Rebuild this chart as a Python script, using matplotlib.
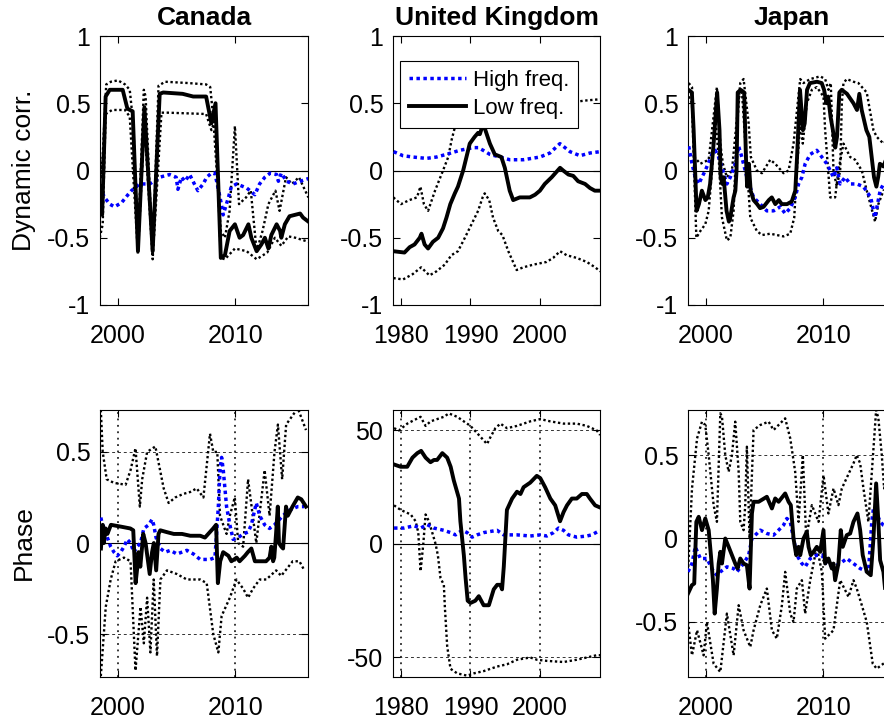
import matplotlib
matplotlib.use("Agg")
import matplotlib.pyplot as plt
from matplotlib.lines import Line2D

plt.rcParams['font.family'] = ['Liberation Sans', 'DejaVu Sans']
plt.rcParams['axes.unicode_minus'] = False

# ---------------- Canada: dynamic correlation ----------------
ca_c_lf_t = [1998.45, 1998.65, 1998.95, 1999.3, 2000.4, 2000.8, 2001.25, 2001.7, 2002.25, 2002.95, 2003.55, 2003.85, 2005.5, 2006.4, 2007.5, 2007.95, 2008.3, 2008.75, 2009.1, 2009.5, 2009.95, 2010.35, 2010.65, 2011.1, 2011.35, 2011.8, 2012.2, 2012.5, 2012.8, 2013.05, 2013.5, 2013.8, 2013.9, 2014.2, 2014.6, 2015.05, 2015.5, 2015.75, 2016.2]
ca_c_lf_v = [-0.12, -0.33, 0.55, 0.6, 0.6, 0.46, 0.44, -0.6, 0.47, -0.6, 0.57, 0.58, 0.57, 0.55, 0.55, 0.35, 0.5, -0.65, -0.63, -0.45, -0.4, -0.5, -0.48, -0.4, -0.5, -0.6, -0.55, -0.5, -0.58, -0.48, -0.4, -0.45, -0.5, -0.4, -0.34, -0.33, -0.32, -0.35, -0.38]
ca_c_up_t = [1998.45, 1998.6, 1998.75, 1999.0, 1999.4, 2000.0, 2000.6, 2001.0, 2001.3, 2001.7, 2002.2, 2002.35, 2002.95, 2003.45, 2004.0, 2006.0, 2007.5, 2007.85, 2008.1, 2008.4, 2008.75, 2009.1, 2009.5, 2009.95, 2010.3, 2010.9, 2011.3, 2011.8, 2012.3, 2012.8, 2013.4, 2013.75, 2014.3, 2014.8, 2015.4, 2016.2]
ca_c_up_v = [0.15, -0.05, 0.2, 0.64, 0.66, 0.67, 0.64, 0.6, 0.35, -0.55, 0.6, 0.55, -0.62, 0.63, 0.66, 0.65, 0.64, 0.62, 0.4, 0.0, -0.45, -0.5, -0.3, 0.33, -0.25, -0.2, -0.15, -0.6, -0.45, -0.25, -0.15, -0.3, -0.05, -0.1, -0.05, -0.2]
ca_c_lo_t = [1998.45, 1998.7, 1998.95, 1999.5, 2000.6, 2001.0, 2001.7, 2002.25, 2002.95, 2003.7, 2004.2, 2007.5, 2007.95, 2008.3, 2008.75, 2009.1, 2009.95, 2010.95, 2011.8, 2012.7, 2013.35, 2013.9, 2014.5, 2015.1, 2016.2]
ca_c_lo_v = [-0.5, -0.4, 0.42, 0.45, 0.45, 0.4, -0.62, 0.35, -0.66, 0.43, 0.43, 0.42, 0.3, 0.38, -0.65, -0.66, -0.58, -0.6, -0.66, -0.61, -0.5, -0.56, -0.49, -0.5, -0.53]
ca_c_hf_t = [1998.45, 1998.85, 1999.3, 1999.7, 2000.3, 2000.85, 2001.15, 2001.85, 2002.7, 2003.55, 2004.4, 2004.95, 2005.1, 2005.4, 2005.7, 2006.1, 2006.5, 2006.8, 2007.25, 2007.55, 2007.95, 2008.25, 2008.8, 2008.95, 2009.4, 2009.65, 2010.1, 2010.95, 2011.65, 2011.8, 2012.05, 2012.5, 2012.95, 2013.5, 2013.65, 2013.9, 2014.35, 2014.9, 2015.5, 2016.2]
ca_c_hf_v = [-0.12, -0.2, -0.25, -0.27, -0.24, -0.18, -0.15, -0.1, -0.1, -0.05, -0.03, -0.05, -0.14, -0.05, -0.08, -0.03, -0.1, -0.15, -0.1, -0.05, -0.02, -0.02, -0.25, -0.33, -0.2, -0.12, -0.1, -0.13, -0.18, -0.15, -0.1, -0.05, -0.02, -0.03, -0.08, -0.02, -0.08, -0.1, -0.08, -0.06]

# ---------------- United Kingdom: dynamic correlation ----------------
uk_c_lf_t = [1978.9, 1980.5, 1981.25, 1981.95, 1982.7, 1982.95, 1983.4, 1983.9, 1984.6, 1985.35, 1986.05, 1986.55, 1987.1, 1987.75, 1988.2, 1988.95, 1989.9, 1990.6, 1991.1, 1991.35, 1991.85, 1992.15, 1992.8, 1993.5, 1994.45, 1994.95, 1995.65, 1996.15, 1997.1, 1998.55, 1999.3, 2000.0, 2000.7, 2001.7, 2002.9, 2003.35, 2004.1, 2004.8, 2005.5, 2006.5, 2007.2, 2007.9, 2008.7]
uk_c_lf_v = [-0.6, -0.61, -0.57, -0.55, -0.5, -0.47, -0.55, -0.58, -0.53, -0.5, -0.43, -0.35, -0.25, -0.17, -0.12, 0.0, 0.2, 0.25, 0.28, 0.27, 0.35, 0.3, 0.2, 0.12, 0.1, 0.02, -0.15, -0.22, -0.2, -0.2, -0.18, -0.15, -0.1, -0.05, 0.02, 0.0, -0.03, -0.04, -0.08, -0.1, -0.13, -0.15, -0.15]
uk_c_up_t = [1978.9, 1980.0, 1981.2, 1982.3, 1982.8, 1983.3, 1983.9, 1984.9, 1986.05, 1986.8, 1987.3, 1987.75, 1988.5, 1990.0, 1992.0, 1994.0, 1996.0, 1998.0, 2000.0, 2002.0, 2003.7, 2005.0, 2006.5, 2008.7]
uk_c_up_v = [-0.2, -0.25, -0.22, -0.2, -0.12, -0.25, -0.3, -0.15, 0.0, 0.1, 0.23, 0.32, 0.55, 0.65, 0.75, 0.68, 0.58, 0.52, 0.5, 0.5, 0.52, 0.51, 0.52, 0.53]
uk_c_lo_t = [1978.9, 1980.3, 1981.7, 1982.9, 1984.1, 1985.1, 1986.3, 1987.25, 1988.2, 1989.2, 1990.15, 1991.1, 1991.75, 1992.05, 1992.7, 1993.25, 1994.0, 1994.6, 1995.45, 1996.65, 1997.6, 1999.05, 2000.95, 2001.9, 2002.9, 2003.85, 2005.3, 2006.75, 2007.95, 2008.7]
uk_c_lo_v = [-0.8, -0.81, -0.77, -0.72, -0.78, -0.75, -0.7, -0.63, -0.6, -0.5, -0.4, -0.3, -0.2, -0.17, -0.22, -0.35, -0.45, -0.48, -0.6, -0.74, -0.72, -0.7, -0.68, -0.65, -0.6, -0.63, -0.65, -0.68, -0.72, -0.75]
uk_c_hf_t = [1978.94, 1980.29, 1981.73, 1983.65, 1985.1, 1986.54, 1988.46, 1990.38, 1991.11, 1991.83, 1992.79, 1994.23, 1995.67, 1997.6, 2000.0, 2001.44, 2002.88, 2003.37, 2004.33, 2005.77, 2007.21, 2008.65]
uk_c_hf_v = [0.14, 0.11, 0.1, 0.09, 0.1, 0.12, 0.15, 0.17, 0.17, 0.15, 0.12, 0.1, 0.08, 0.08, 0.1, 0.13, 0.2, 0.18, 0.14, 0.11, 0.13, 0.14]

# ---------------- Japan: dynamic correlation ----------------
jp_c_lf_t = [1998.5, 1998.8, 1998.95, 1999.2, 1999.4, 1999.65, 1999.95, 2000.15, 2000.35, 2000.65, 2000.95, 2001.15, 2001.25, 2001.4, 2001.5, 2001.75, 2001.95, 2002.05, 2002.35, 2002.5, 2002.6, 2002.7, 2002.95, 2003.25, 2003.4, 2003.5, 2003.65, 2003.8, 2004.05, 2004.35, 2004.6, 2004.9, 2005.35, 2005.6, 2005.9, 2006.2, 2006.45, 2006.9, 2007.3, 2007.6, 2007.75, 2008.0, 2008.25, 2008.4, 2008.6, 2008.85, 2009.45, 2009.85, 2010.05, 2010.25, 2010.4, 2010.6, 2010.8, 2011.0, 2011.15, 2011.35, 2011.55, 2012.0, 2012.55, 2012.85, 2013.05, 2013.25, 2013.65, 2013.9, 2014.1, 2014.3, 2014.5, 2014.65, 2014.8, 2015.1, 2015.4, 2016.2]
jp_c_lf_v = [0.6, 0.58, 0.3, -0.3, -0.25, -0.15, -0.22, -0.2, -0.1, 0.2, 0.58, 0.3, -0.05, -0.1, -0.05, -0.3, -0.38, -0.36, -0.2, -0.15, 0.0, 0.58, 0.6, 0.58, 0.1, -0.12, 0.05, -0.15, -0.22, -0.25, -0.28, -0.27, -0.22, -0.2, -0.25, -0.22, -0.25, -0.25, -0.23, -0.15, 0.1, 0.6, 0.3, 0.35, 0.6, 0.65, 0.66, 0.65, 0.6, 0.5, 0.55, 0.4, 0.3, 0.17, 0.25, 0.58, 0.6, 0.57, 0.5, 0.45, 0.57, 0.45, 0.3, 0.25, 0.1, -0.05, -0.12, -0.05, 0.05, 0.03, 0.1, 0.1]
jp_c_up_t = [1998.53, 1998.81, 1999.01, 1999.52, 2000.23, 2000.93, 2001.22, 2001.44, 2001.78, 2002.21, 2002.92, 2003.2, 2003.63, 2003.82, 2004.33, 2004.76, 2005.47, 2005.89, 2006.6, 2007.03, 2007.45, 2008.02, 2008.3, 2008.87, 2009.72, 2010.14, 2010.42, 2010.62, 2010.85, 2011.13, 2011.42, 2011.56, 2011.7, 2011.98, 2012.55, 2012.97, 2013.68, 2014.25, 2014.53, 2015.1, 2016.2]
jp_c_up_v = [0.65, 0.62, 0.1, 0.05, 0.08, 0.62, 0.2, 0.05, -0.05, 0.0, 0.65, 0.68, 0.35, 0.1, 0.0, -0.02, 0.08, 0.05, -0.02, 0.0, 0.2, 0.68, 0.65, 0.68, 0.7, 0.68, 0.6, 0.65, 0.0, -0.12, 0.0, 0.5, 0.65, 0.68, 0.66, 0.65, 0.58, 0.3, 0.25, 0.2, 0.3]
jp_c_lo_t = [1998.53, 1998.81, 1999.18, 1999.52, 1999.94, 2000.23, 2000.51, 2000.79, 2001.08, 2001.36, 2001.78, 2002.07, 2002.35, 2002.63, 2002.83, 2003.05, 2003.43, 2003.77, 2004.33, 2004.76, 2005.47, 2006.03, 2006.6, 2007.17, 2007.51, 2007.73, 2008.02, 2008.24, 2008.58, 2009.01, 2009.43, 2010.0, 2010.14, 2010.57, 2010.99, 2011.27, 2011.7, 2012.27, 2012.69, 2013.26, 2013.68, 2014.39, 2014.67, 2015.1, 2016.2]
jp_c_lo_v = [0.55, 0.5, -0.5, -0.45, -0.4, -0.3, 0.0, 0.4, 0.1, -0.35, -0.52, -0.5, -0.3, 0.3, 0.55, 0.6, 0.1, -0.35, -0.45, -0.48, -0.47, -0.48, -0.49, -0.47, -0.35, 0.0, 0.35, 0.2, 0.5, 0.6, 0.62, 0.55, 0.3, -0.2, -0.2, 0.0, 0.2, 0.1, 0.08, 0.0, -0.15, -0.38, -0.25, -0.15, -0.1]
jp_c_hf_t = [1998.53, 1998.81, 1999.09, 1999.38, 1999.66, 1999.94, 2000.51, 2000.79, 2001.08, 2001.5, 2001.78, 2002.07, 2002.49, 2002.78, 2003.05, 2003.48, 2004.05, 2004.62, 2005.18, 2005.75, 2006.32, 2006.74, 2007.17, 2007.59, 2007.88, 2008.16, 2008.44, 2008.87, 2009.43, 2009.86, 2010.28, 2010.57, 2010.85, 2011.13, 2011.42, 2011.84, 2012.27, 2012.83, 2013.4, 2014.02, 2014.25, 2014.39, 2014.53, 2014.82, 2015.1, 2016.2]
jp_c_hf_v = [0.18, 0.05, -0.05, -0.1, -0.05, 0.0, 0.12, 0.15, 0.1, -0.02, -0.1, -0.05, 0.05, 0.18, 0.1, -0.05, -0.2, -0.25, -0.3, -0.3, -0.27, -0.32, -0.28, -0.2, -0.1, -0.05, 0.05, 0.12, 0.15, 0.1, 0.05, 0.0, -0.05, 0.02, -0.1, -0.05, -0.1, -0.1, -0.12, -0.2, -0.3, -0.35, -0.28, -0.15, -0.1, -0.05]

# ---------------- Canada: phase ----------------
ca_p_lf_t = [1998.55, 1998.7, 1998.8, 1998.95, 1999.1, 1999.4, 2000.25, 2001.05, 2001.3, 2001.5, 2001.7, 2001.75, 2001.9, 2002.15, 2002.35, 2002.7, 2002.9, 2003.05, 2003.25, 2003.45, 2003.6, 2004.15, 2004.75, 2005.45, 2006.15, 2007.0, 2007.4, 2008.1, 2008.35, 2008.5, 2008.7, 2008.95, 2009.4, 2009.65, 2010.1, 2010.35, 2010.8, 2011.05, 2011.35, 2011.65, 2012.2, 2012.6, 2012.9, 2013.05, 2013.2, 2013.3, 2013.45, 2013.6, 2013.7, 2013.9, 2014.05, 2014.3, 2014.45, 2014.85, 2015.3, 2015.6, 2016.0]
ca_p_lf_v = [-0.03, 0.1, 0.0, 0.08, 0.05, 0.1, 0.09, 0.08, 0.07, -0.22, -0.1, -0.05, -0.13, 0.05, 0.0, -0.17, -0.05, 0.0, -0.15, 0.05, 0.07, 0.06, 0.05, 0.05, 0.04, 0.04, 0.03, 0.08, 0.1, -0.22, -0.1, -0.05, -0.07, -0.1, -0.08, -0.1, -0.07, -0.05, -0.03, -0.1, -0.1, -0.1, -0.08, -0.02, -0.1, -0.08, 0.05, 0.2, 0.0, -0.02, -0.03, 0.2, 0.15, 0.2, 0.25, 0.24, 0.2]
ca_p_hf_t = [1998.54, 1998.68, 1998.87, 1999.1, 1999.38, 1999.66, 1999.94, 2000.23, 2000.51, 2000.79, 2001.07, 2001.35, 2001.63, 2001.92, 2002.2, 2002.62, 2002.9, 2003.04, 2003.24, 2003.61, 2004.03, 2004.45, 2005.01, 2005.44, 2005.86, 2006.42, 2006.99, 2007.83, 2008.25, 2008.39, 2008.54, 2008.68, 2008.82, 2008.96, 2009.1, 2009.24, 2009.52, 2009.8, 2010.23, 2010.65, 2011.07, 2011.35, 2011.63, 2011.77, 2012.06, 2012.48, 2012.9, 2013.32, 2014.03, 2014.59, 2015.3, 2015.86]
ca_p_hf_v = [0.14, 0.1, 0.08, 0.03, -0.02, -0.05, -0.07, -0.05, -0.02, 0.02, 0.0, -0.05, -0.02, 0.0, 0.08, 0.1, 0.13, 0.1, 0.03, -0.03, -0.05, -0.04, -0.06, -0.05, -0.04, -0.06, -0.09, -0.09, -0.08, 0.05, 0.2, 0.4, 0.47, 0.4, 0.3, 0.2, 0.1, 0.02, 0.03, 0.05, 0.06, 0.1, 0.18, 0.22, 0.15, 0.1, 0.08, 0.1, 0.15, 0.18, 0.2, 0.2]
ca_p_up_t = [1998.54, 1998.7, 1999.04, 1999.66, 2000.65, 2001.07, 2001.49, 2001.86, 2002.06, 2002.48, 2003.18, 2003.89, 2004.31, 2004.87, 2005.58, 2006.14, 2006.7, 2007.27, 2007.83, 2008.11, 2008.45, 2008.68, 2009.24, 2009.52, 2009.94, 2010.23, 2010.65, 2011.07, 2011.77, 2012.48, 2012.9, 2013.32, 2013.61, 2013.97, 2014.31, 2015.3, 2016.0]
ca_p_up_v = [0.73, 0.5, 0.35, 0.33, 0.32, 0.4, 0.52, 0.2, 0.35, 0.5, 0.53, 0.3, 0.22, 0.25, 0.27, 0.28, 0.3, 0.25, 0.6, 0.5, 0.5, 0.15, 0.05, 0.15, 0.25, 0.0, -0.02, 0.35, 0.0, 0.4, 0.15, 0.5, 0.65, 0.35, 0.65, 0.74, 0.62]
ca_p_lo_t = [1998.54, 1998.96, 1999.38, 1999.8, 2000.51, 2001.07, 2001.49, 2001.92, 2002.2, 2002.48, 2002.76, 2003.04, 2003.32, 2003.61, 2004.17, 2005.01, 2005.86, 2006.99, 2007.55, 2008.11, 2008.54, 2008.82, 2009.52, 2010.08, 2010.65, 2011.07, 2011.49, 2012.06, 2012.62, 2013.46, 2013.89, 2014.87, 2015.44, 2015.86]
ca_p_lo_v = [-0.73, -0.35, -0.2, -0.1, -0.08, -0.1, -0.7, -0.35, -0.55, -0.3, -0.6, -0.2, -0.62, -0.2, -0.15, -0.17, -0.2, -0.2, -0.22, -0.5, -0.6, -0.4, -0.3, -0.2, -0.25, -0.3, -0.25, -0.2, -0.2, -0.15, -0.18, -0.1, -0.1, -0.15]

# ---------------- United Kingdom: phase ----------------
uk_p_lf_t = [1979.0, 1979.95, 1980.9, 1981.65, 1982.35, 1982.9, 1983.55, 1984.25, 1984.75, 1985.2, 1985.95, 1986.65, 1987.15, 1987.6, 1988.35, 1988.55, 1989.05, 1989.3, 1989.6, 1990.0, 1990.7, 1991.2, 1991.9, 1992.65, 1993.35, 1993.85, 1994.3, 1994.55, 1994.8, 1995.25, 1996.0, 1996.7, 1997.2, 1997.65, 1998.6, 1999.55, 2000.05, 2000.75, 2001.5, 2002.2, 2002.9, 2003.4, 2003.9, 2004.6, 2005.3, 2006.05, 2006.75, 2007.2, 2007.95, 2008.7]
uk_p_lf_v = [35, 34, 34, 38, 40, 41, 38, 36, 37, 37, 40, 38, 34, 28, 20, 10, -5, -15, -25, -26, -25, -23, -27, -27, -20, -18, -18, -20, -10, 15, 20, 23, 22, 25, 27, 30, 29, 25, 20, 17, 10, 14, 17, 20, 20, 22, 22, 20, 17, 16]
uk_p_hf_t = [1979.0, 1980.43, 1981.87, 1982.82, 1983.78, 1984.74, 1986.17, 1987.13, 1987.85, 1988.8, 1989.52, 1990.24, 1990.96, 1991.91, 1993.83, 1994.78, 1996.7, 1998.61, 2000.05, 2001.0, 2001.96, 2002.68, 2003.4, 2004.11, 2005.31, 2006.75, 2007.46, 2008.66]
uk_p_hf_v = [7, 7, 8, 7, 8.5, 7, 6, 5, 4, 6, 5, 3, 4, 5, 6, 4, 4, 3.5, 4, 3.5, 5, 7, 6, 4, 3, 3.5, 4, 6]
uk_p_up_t = [1979.0, 1979.71, 1980.91, 1982.82, 1983.54, 1984.26, 1986.17, 1986.89, 1988.09, 1989.04, 1990.0, 1991.2, 1992.39, 1992.87, 1993.59, 1994.31, 1995.26, 1996.7, 1998.61, 2000.05, 2001.48, 2003.4, 2005.31, 2006.75, 2008.18, 2008.66]
uk_p_up_v = [51, 50, 53, 56, 52, 54, 56, 57.5, 56, 54, 52, 48, 44, 47, 51, 53, 51, 52, 54, 55, 54, 53, 53, 52, 50, 48]
uk_p_lo_t = [1979.0, 1979.95, 1981.39, 1982.11, 1982.49, 1982.82, 1983.21, 1983.54, 1984.02, 1984.5, 1984.98, 1985.31, 1985.69, 1986.17, 1986.32, 1986.65, 1987.13, 1988.09, 1989.52, 1990.48, 1991.91, 1992.87, 1993.83, 1995.26, 1996.7, 1998.61, 1999.57, 2001.0, 2003.4, 2005.31, 2006.75, 2008.18, 2008.66]
uk_p_lo_v = [17, 15, 13, 10, 5, -12, 0, 13, 10, 5, 0, -5, -15, -18, -28, -45, -55, -57, -58, -57, -56, -55, -54, -53, -51, -50, -51, -51.5, -52, -51, -50, -49, -49]

# ---------------- Japan: phase ----------------
jp_p_lf_t = [1998.47, 1998.8, 1999.0, 1999.18, 1999.38, 1999.66, 1999.94, 2000.23, 2000.42, 2000.59, 2000.74, 2000.93, 2001.08, 2001.22, 2001.36, 2001.64, 2001.93, 2002.21, 2002.49, 2002.69, 2002.92, 2003.2, 2003.48, 2003.71, 2003.91, 2004.05, 2004.48, 2005.18, 2005.61, 2005.89, 2006.18, 2006.74, 2007.03, 2007.22, 2007.45, 2007.68, 2007.88, 2008.02, 2008.3, 2008.58, 2008.73, 2008.92, 2009.15, 2009.43, 2009.72, 2010.0, 2010.14, 2010.42, 2010.71, 2010.85, 2010.99, 2011.27, 2011.47, 2011.64, 2011.98, 2012.27, 2012.55, 2012.89, 2013.12, 2013.34, 2013.68, 2014.02, 2014.25, 2014.48, 2014.67, 2014.82, 2015.1, 2015.24, 2016.2]
jp_p_lf_v = [-0.33, -0.28, -0.27, 0.1, 0.13, 0.05, 0.12, 0.05, -0.1, -0.25, -0.45, -0.3, -0.15, -0.08, -0.15, 0.0, -0.05, -0.1, -0.15, -0.18, -0.12, -0.15, -0.16, -0.3, 0.15, 0.22, 0.22, 0.25, 0.18, 0.24, 0.22, 0.27, 0.22, 0.2, 0.0, -0.1, -0.05, -0.1, 0.0, 0.04, -0.05, -0.1, -0.08, -0.05, -0.08, 0.05, -0.15, -0.12, -0.18, -0.15, -0.25, -0.15, 0.05, -0.05, 0.02, 0.03, 0.1, 0.15, 0.05, -0.1, -0.2, -0.22, 0.0, 0.33, 0.1, -0.13, -0.2, -0.3, -0.35]
jp_p_hf_t = [1998.47, 1998.81, 1999.09, 1999.52, 2000.08, 2000.65, 2000.93, 2001.22, 2001.78, 2002.35, 2002.63, 2003.2, 2003.63, 2003.91, 2004.19, 2004.62, 2005.18, 2005.75, 2006.18, 2006.6, 2006.88, 2007.17, 2007.45, 2007.73, 2008.16, 2008.44, 2008.87, 2009.43, 2009.86, 2010.28, 2010.85, 2011.42, 2011.98, 2012.55, 2013.12, 2013.82, 2014.11, 2014.25, 2014.53, 2014.82, 2015.1, 2016.2]
jp_p_hf_v = [-0.2, -0.15, -0.05, -0.12, -0.12, -0.2, -0.22, -0.2, -0.17, -0.18, -0.2, -0.15, -0.1, 0.0, 0.02, 0.05, 0.03, 0.02, 0.05, 0.08, 0.12, 0.1, 0.0, -0.1, -0.15, -0.17, -0.12, -0.1, -0.1, -0.15, -0.17, -0.15, -0.12, -0.15, -0.18, -0.2, 0.1, 0.18, 0.15, 0.1, 0.08, 0.05]
jp_p_up_t = [1998.47, 1998.81, 1999.24, 1999.66, 1999.94, 2000.23, 2000.65, 2000.93, 2001.22, 2001.36, 2001.64, 2001.93, 2002.21, 2002.49, 2002.78, 2002.92, 2003.2, 2003.34, 2003.48, 2003.71, 2004.05, 2004.62, 2005.33, 2005.75, 2006.46, 2006.74, 2007.17, 2007.59, 2007.88, 2008.24, 2008.53, 2009.01, 2009.58, 2010.0, 2010.42, 2010.85, 2011.27, 2011.56, 2012.55, 2012.83, 2013.12, 2013.4, 2013.82, 2014.48, 2014.67, 2014.96, 2015.16, 2016.2]
jp_p_up_v = [-0.2, 0.3, 0.6, 0.7, 0.68, 0.5, 0.2, 0.1, 0.75, 0.73, 0.5, 0.4, 0.5, 0.7, 0.4, 0.1, 0.05, 0.2, 0.55, 0.0, 0.65, 0.68, 0.7, 0.65, 0.7, 0.72, 0.6, 0.4, 0.1, 0.5, 0.0, 0.2, 0.1, 0.38, 0.15, 0.3, 0.2, 0.3, 0.45, 0.5, 0.45, 0.3, 0.1, 0.77, 0.72, 0.5, 0.3, 0.6]
jp_p_lo_t = [1998.47, 1998.81, 1999.24, 1999.8, 2000.08, 2000.65, 2001.22, 2001.78, 2002.35, 2002.78, 2003.2, 2003.77, 2004.05, 2004.62, 2005.18, 2005.61, 2006.03, 2006.46, 2006.74, 2007.17, 2007.45, 2007.73, 2008.16, 2008.44, 2008.87, 2009.43, 2009.86, 2010.14, 2010.85, 2011.42, 2012.13, 2012.55, 2012.83, 2013.26, 2013.68, 2014.19, 2014.53, 2015.1, 2016.2]
jp_p_lo_v = [-0.5, -0.7, -0.55, -0.7, -0.5, -0.75, -0.8, -0.45, -0.7, -0.4, -0.55, -0.65, -0.55, -0.4, -0.3, -0.55, -0.6, -0.4, -0.2, -0.45, -0.5, -0.3, -0.25, -0.45, -0.25, -0.05, -0.2, -0.6, -0.55, -0.25, -0.35, -0.25, -0.3, -0.4, -0.5, -0.75, -0.78, -0.75, -0.7]

countries = ["Canada", "United Kingdom", "Japan"]
legend_labels = ["High freq.", "Low freq."]
row_labels = ["Dynamic corr.", "Phase"]

W, H = 884, 721
fig = plt.figure(figsize=(W / 100, H / 100), dpi=100)


def px_axes(x0, x1, y0, y1):
    return fig.add_axes([x0 / W, 1 - y1 / H, (x1 - x0) / W, (y1 - y0) / H])


BAND = dict(color='k', lw=1.7, ls=(0, (1, 1.1)))
HF = dict(color='#0000ff', lw=2.5, ls=(0, (1, 1)))
LF = dict(color='k', lw=2.8, ls='-')


def panel(ax, up, lo, hf, lf):
    ax.axhline(0, color='k', lw=0.8, zorder=1)
    ax.plot(up[0], up[1], **BAND, zorder=2)
    ax.plot(lo[0], lo[1], **BAND, zorder=2)
    ax.plot(hf[0], hf[1], **HF, zorder=3)
    ax.plot(lf[0], lf[1], **LF, zorder=4)
    ax.tick_params(direction='in', top=True, right=True, length=5, width=0.8,
                   labelsize=18, colors='k')
    ax.tick_params(axis='x', pad=14)
    ax.tick_params(axis='y', pad=7)
    for s in ax.spines.values():
        s.set_linewidth(0.8)


def grid(ax):
    ax.grid(False)
    for x in ax.get_xticks():
        ax.axvline(x, color='k', lw=1.1, ls=(0, (1.2, 3)), zorder=1)
    for y in ax.get_yticks():
        if y != 0:
            ax.axhline(y, color='#333333', lw=0.7, ls=(0, (3, 3)), zorder=1)


xl_cj = (1998.47, 2016.17)
xl_uk = (1978.85, 2008.65)

top_y = (36, 305)
bot_y = (410, 677)
cols = [(100, 308), (393, 600), (688, 896)]

# --- top row ---
ax1 = px_axes(*cols[0], *top_y)
panel(ax1, (ca_c_up_t, ca_c_up_v), (ca_c_lo_t, ca_c_lo_v), (ca_c_hf_t, ca_c_hf_v), (ca_c_lf_t, ca_c_lf_v))
ax2 = px_axes(*cols[1], *top_y)
panel(ax2, (uk_c_up_t, uk_c_up_v), (uk_c_lo_t, uk_c_lo_v), (uk_c_hf_t, uk_c_hf_v), (uk_c_lf_t, uk_c_lf_v))
ax3 = px_axes(*cols[2], *top_y)
panel(ax3, (jp_c_up_t, jp_c_up_v), (jp_c_lo_t, jp_c_lo_v), (jp_c_hf_t, jp_c_hf_v), (jp_c_lf_t, jp_c_lf_v))

for ax, xl, title in [(ax1, xl_cj, countries[0]), (ax2, xl_uk, countries[1]), (ax3, xl_cj, countries[2])]:
    ax.set_xlim(*xl)
    ax.set_ylim(-1, 1)
    ax.set_yticks([-1, -0.5, 0, 0.5, 1])
    ax.set_yticklabels(["-1", "-0.5", "0", "0.5", "1"])
    ax.set_title(title, fontsize=19, fontweight='bold', pad=8)

# --- bottom row ---
bx1 = px_axes(*cols[0], *bot_y)
panel(bx1, (ca_p_up_t, ca_p_up_v), (ca_p_lo_t, ca_p_lo_v), (ca_p_hf_t, ca_p_hf_v), (ca_p_lf_t, ca_p_lf_v))
bx2 = px_axes(*cols[1], *bot_y)
panel(bx2, (uk_p_up_t, uk_p_up_v), (uk_p_lo_t, uk_p_lo_v), (uk_p_hf_t, uk_p_hf_v), (uk_p_lf_t, uk_p_lf_v))
bx3 = px_axes(*cols[2], *bot_y)
panel(bx3, (jp_p_up_t, jp_p_up_v), (jp_p_lo_t, jp_p_lo_v), (jp_p_hf_t, jp_p_hf_v), (jp_p_lf_t, jp_p_lf_v))

bx1.set_xlim(*xl_cj); bx1.set_ylim(-0.735, 0.73)
bx1.set_yticks([-0.5, 0, 0.5]); bx1.set_yticklabels(["-0.5", "0", "0.5"])
bx2.set_xlim(*xl_uk); bx2.set_ylim(-58.6, 59)
bx2.set_yticks([-50, 0, 50]); bx2.set_yticklabels(["-50", "0", "50"])
bx3.set_xlim(*xl_cj); bx3.set_ylim(-0.83, 0.77)
bx3.set_yticks([-0.5, 0, 0.5]); bx3.set_yticklabels(["-0.5", "0", "0.5"])

for ax in [ax1, bx1, ax3, bx3]:
    ax.set_xticks([2000, 2010]); ax.set_xticklabels(["2000", "2010"])
for ax in [ax2, bx2]:
    ax.set_xticks([1980, 1990, 2000]); ax.set_xticklabels(["1980", "1990", "2000"])

for ax in [bx1, bx2, bx3]:
    grid(ax)

# row labels
fig.text(24 / W, 1 - 170 / H, row_labels[0], rotation=90, ha='center', va='center', fontsize=19)
fig.text(24 / W, 1 - 543 / H, row_labels[1], rotation=90, ha='center', va='center', fontsize=19)

# legend
handles = [Line2D([], [], **HF), Line2D([], [], **LF)]
leg = ax2.legend(handles, legend_labels, loc='upper left', bbox_to_anchor=(0.036, 0.906),
                 borderaxespad=0, fontsize=16, fancybox=False, framealpha=1,
                 edgecolor='k', handlelength=2.55, handletextpad=0.3,
                 borderpad=0.4, labelspacing=0.3)
leg.get_frame().set_linewidth(0.8)
leg.set_zorder(10)

fig.savefig("out.png", dpi=100)
